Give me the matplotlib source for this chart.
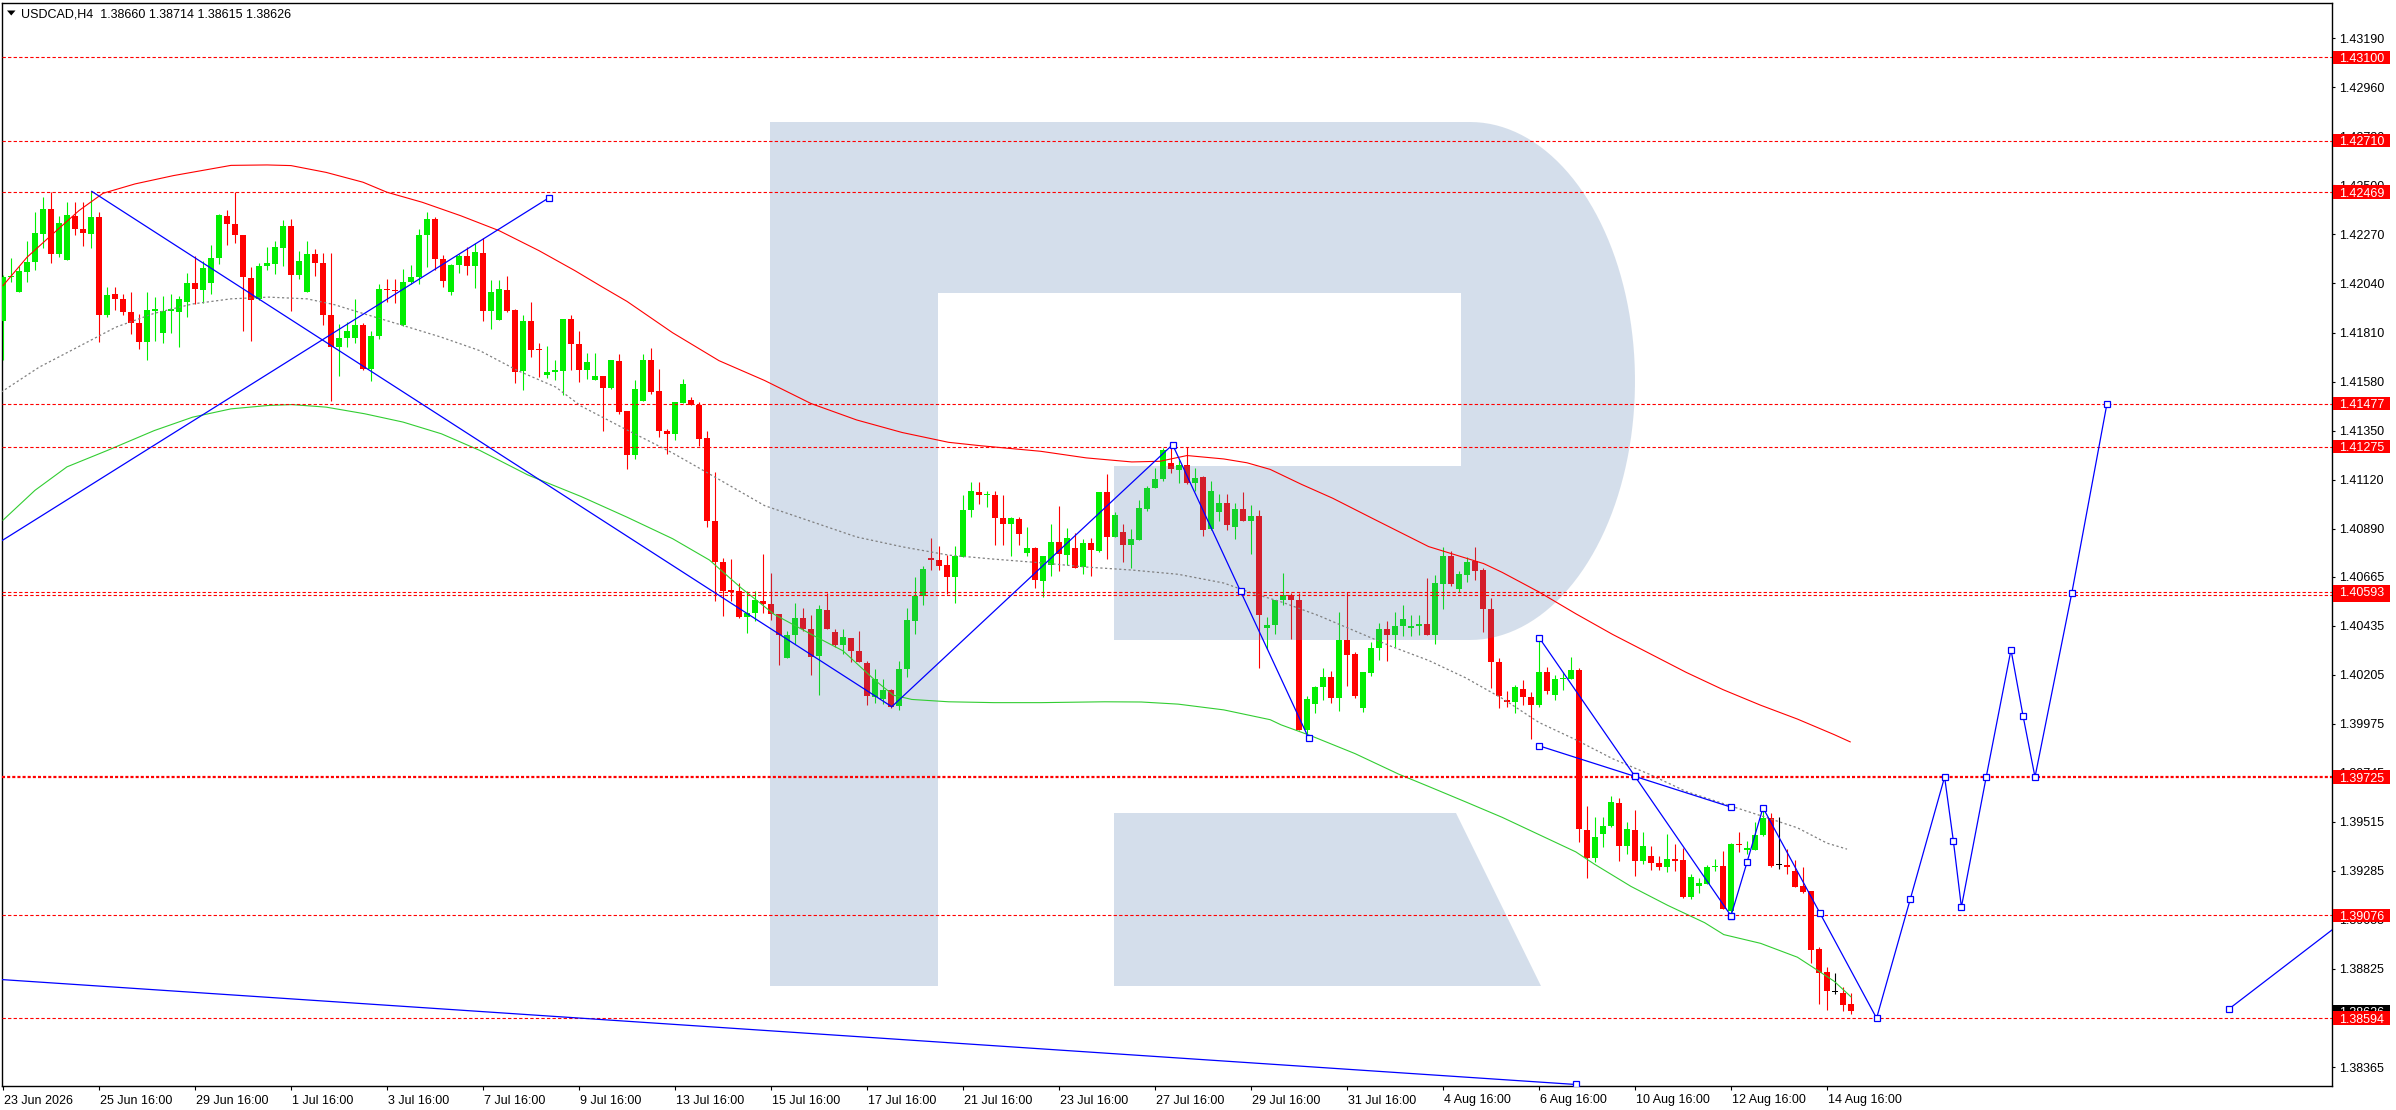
import matplotlib
matplotlib.use('Agg')
import matplotlib.pyplot as plt
import matplotlib.transforms as mtransforms
from matplotlib.patches import Polygon, Rectangle
import numpy as np

plt.rcParams['font.family'] = ['Liberation Sans', 'DejaVu Sans']
plt.rcParams['lines.scale_dashes'] = False

# ---------------- data ----------------
title = 'USDCAD,H4  1.38660 1.38714 1.38615 1.38626'

opens = [1.41863, 1.42069, 1.41999, 1.42093, 1.42140, 1.42274, 1.42391, 1.42177, 1.42150, 1.42358,
         1.42296, 1.42271, 1.42354, 1.41891, 1.41991, 1.41969, 1.41907, 1.41857, 1.41765, 1.41910,
         1.41807, 1.41910, 1.41908, 1.41955, 1.42040, 1.42008, 1.42041, 1.42158, 1.42358, 1.42321,
         1.42269, 1.42068, 1.41965, 1.42121, 1.42130, 1.42208, 1.42311, 1.42079, 1.41999, 1.42180,
         1.42138, 1.41894, 1.41741, 1.41785, 1.41786, 1.41847, 1.41641, 1.41793, 1.42016, 1.42011,
         1.41844, 1.42046, 1.42069, 1.42266, 1.42344, 1.42155, 1.41999, 1.42129, 1.42171, 1.42124,
         1.42185, 1.41910, 1.41871, 1.42010, 1.41916, 1.41629, 1.41865, 1.41730, 1.41611, 1.41626,
         1.41629, 1.41875, 1.41757, 1.41635, 1.41588, 1.41604, 1.41551, 1.41678, 1.41441, 1.41234,
         1.41489, 1.41681, 1.41534, 1.41349, 1.41336, 1.41480, 1.41492, 1.41469, 1.41316, 1.40927,
         1.40735, 1.40602, 1.40599, 1.40475, 1.40494, 1.40550, 1.40537, 1.40491, 1.40284, 1.40392,
         1.40472, 1.40421, 1.40295, 1.40508, 1.40403, 1.40344, 1.40375, 1.40315, 1.40259, 1.40101,
         1.40092, 1.40135, 1.40058, 1.40230, 1.40457, 1.40573, 1.40751, 1.40743, 1.40720, 1.40664,
         1.40757, 1.40978, 1.41061, 1.41046, 1.41047, 1.40939, 1.40911, 1.40934, 1.40775, 1.40797,
         1.40645, 1.40720, 1.40829, 1.40766, 1.40798, 1.40710, 1.40825, 1.40786, 1.41060, 1.40849,
         1.40874, 1.40812, 1.40836, 1.40982, 1.41080, 1.41121, 1.41196, 1.41165, 1.41188, 1.41106,
         1.41134, 1.40887, 1.40970, 1.41010, 1.40900, 1.40982, 1.40924, 1.40948, 1.40423, 1.40438,
         1.40556, 1.40580, 1.40557, 1.39945, 1.40067, 1.40146, 1.40196, 1.40094, 1.40366, 1.40300,
         1.40050, 1.40212, 1.40329, 1.40418, 1.40392, 1.40434, 1.40426, 1.40434, 1.40445, 1.40392,
         1.40632, 1.40764, 1.40607, 1.40674, 1.40737, 1.40696, 1.40515, 1.40266, 1.40088, 1.40078,
         1.40140, 1.40101, 1.40065, 1.40220, 1.40109, 1.40185, 1.40187, 1.40229, 1.39476, 1.39343,
         1.39460, 1.39495, 1.39604, 1.39402, 1.39476, 1.39330, 1.39356, 1.39323, 1.39301, 1.39342,
         1.39337, 1.39164, 1.39212, 1.39225, 1.39301, 1.39308, 1.39099, 1.39411, 1.39385, 1.39385,
         1.39453, 1.39534, 1.39312, 1.39312, 1.39285, 1.39212, 1.39191, 1.38919, 1.38811, 1.38717,
         1.38714, 1.38660]

highs = [1.42082, 1.42160, 1.42124, 1.42238, 1.42377, 1.42444, 1.42469, 1.42355, 1.42424, 1.42422,
         1.42422, 1.42472, 1.42377, 1.42022, 1.42022, 1.41991, 1.42002, 1.41897, 1.41999, 1.41976,
         1.41979, 1.41991, 1.41982, 1.42091, 1.42169, 1.42147, 1.42221, 1.42366, 1.42385, 1.42469,
         1.42269, 1.42119, 1.42136, 1.42213, 1.42241, 1.42338, 1.42343, 1.42191, 1.42238, 1.42201,
         1.42182, 1.42182, 1.41850, 1.41858, 1.41969, 1.41855, 1.41816, 1.42038, 1.42060, 1.42060,
         1.42108, 1.42129, 1.42294, 1.42377, 1.42354, 1.42175, 1.42132, 1.42179, 1.42210, 1.42229,
         1.42254, 1.42057, 1.42057, 1.42075, 1.41921, 1.41893, 1.41955, 1.41760, 1.41749, 1.41679,
         1.41875, 1.41890, 1.41815, 1.41716, 1.41716, 1.41604, 1.41681, 1.41709, 1.41441, 1.41588,
         1.41709, 1.41737, 1.41639, 1.41358, 1.41483, 1.41594, 1.41508, 1.41482, 1.41350, 1.41157,
         1.40751, 1.40746, 1.40633, 1.40596, 1.40596, 1.40772, 1.40680, 1.40491, 1.40411, 1.40542,
         1.40519, 1.40483, 1.40534, 1.40587, 1.40418, 1.40418, 1.40375, 1.40411, 1.40271, 1.40234,
         1.40186, 1.40138, 1.40267, 1.40519, 1.40661, 1.40715, 1.40846, 1.40809, 1.40766, 1.40809,
         1.41047, 1.41109, 1.41109, 1.41069, 1.41066, 1.41047, 1.40945, 1.40944, 1.40896, 1.40805,
         1.40761, 1.40913, 1.40998, 1.40894, 1.40870, 1.40840, 1.40846, 1.41063, 1.41145, 1.40967,
         1.40913, 1.40890, 1.41023, 1.41091, 1.41176, 1.41268, 1.41288, 1.41214, 1.41271, 1.41176,
         1.41137, 1.41112, 1.41053, 1.41053, 1.41010, 1.41063, 1.41002, 1.40979, 1.40478, 1.40557,
         1.40680, 1.40588, 1.40588, 1.40107, 1.40154, 1.40235, 1.40224, 1.40499, 1.40593, 1.40311,
         1.40216, 1.40358, 1.40447, 1.40457, 1.40499, 1.40534, 1.40483, 1.40483, 1.40658, 1.40672,
         1.40802, 1.40787, 1.40690, 1.40758, 1.40803, 1.40704, 1.40564, 1.40285, 1.40127, 1.40159,
         1.40180, 1.40123, 1.40377, 1.40240, 1.40204, 1.40219, 1.40288, 1.40235, 1.39588, 1.39536,
         1.39536, 1.39638, 1.39628, 1.39512, 1.39571, 1.39468, 1.39403, 1.39356, 1.39456, 1.39410,
         1.39392, 1.39269, 1.39253, 1.39314, 1.39342, 1.39379, 1.39415, 1.39466, 1.39424, 1.39515,
         1.39568, 1.39557, 1.39539, 1.39389, 1.39338, 1.39301, 1.39191, 1.38926, 1.38832, 1.38804,
         1.38738, 1.38714]

lows = [1.41682, 1.42046, 1.41999, 1.42046, 1.42105, 1.42205, 1.42136, 1.42163, 1.42150, 1.42266,
        1.42215, 1.42205, 1.41765, 1.41882, 1.41916, 1.41894, 1.41802, 1.41732, 1.41682, 1.41769,
        1.41760, 1.41807, 1.41741, 1.41882, 1.41944, 1.41949, 1.41991, 1.42132, 1.42222, 1.42229,
        1.41819, 1.41769, 1.41961, 1.42105, 1.42085, 1.42121, 1.41910, 1.42060, 1.41999, 1.42074,
        1.41847, 1.41491, 1.41604, 1.41741, 1.41763, 1.41632, 1.41582, 1.41779, 1.41952, 1.41950,
        1.41841, 1.42038, 1.42038, 1.42116, 1.42105, 1.42025, 1.41986, 1.42088, 1.42082, 1.42018,
        1.41866, 1.41827, 1.41871, 1.41907, 1.41574, 1.41541, 1.41694, 1.41600, 1.41597, 1.41588,
        1.41515, 1.41632, 1.41579, 1.41591, 1.41585, 1.41349, 1.41546, 1.41426, 1.41168, 1.41219,
        1.41489, 1.41520, 1.41322, 1.41242, 1.41304, 1.41480, 1.41469, 1.41279, 1.40899, 1.40550,
        1.40480, 1.40550, 1.40472, 1.40401, 1.40457, 1.40496, 1.40460, 1.40251, 1.40284, 1.40349,
        1.40411, 1.40205, 1.40109, 1.40418, 1.40333, 1.40302, 1.40265, 1.40264, 1.40063, 1.40071,
        1.40067, 1.40049, 1.40040, 1.40194, 1.40395, 1.40534, 1.40696, 1.40696, 1.40584, 1.40540,
        1.40757, 1.40945, 1.41007, 1.40990, 1.40815, 1.40812, 1.40763, 1.40812, 1.40763, 1.40611,
        1.40568, 1.40666, 1.40692, 1.40720, 1.40704, 1.40678, 1.40666, 1.40781, 1.40747, 1.40849,
        1.40735, 1.40707, 1.40836, 1.40975, 1.41080, 1.41114, 1.41152, 1.41106, 1.41098, 1.41067,
        1.40856, 1.40882, 1.40928, 1.40882, 1.40840, 1.40924, 1.40769, 1.40237, 1.40327, 1.40395,
        1.40531, 1.40372, 1.39945, 1.39916, 1.40025, 1.40086, 1.40073, 1.40036, 1.40154, 1.40094,
        1.40030, 1.40198, 1.40272, 1.40269, 1.40334, 1.40386, 1.40386, 1.40392, 1.40390, 1.40350,
        1.40515, 1.40619, 1.40591, 1.40640, 1.40651, 1.40405, 1.40141, 1.40049, 1.40055, 1.40026,
        1.40062, 1.39905, 1.40054, 1.40115, 1.40085, 1.40131, 1.40187, 1.39422, 1.39251, 1.39327,
        1.39398, 1.39492, 1.39330, 1.39366, 1.39259, 1.39317, 1.39288, 1.39288, 1.39280, 1.39285,
        1.39159, 1.39152, 1.39180, 1.39223, 1.39285, 1.39107, 1.39083, 1.39374, 1.39363, 1.39382,
        1.39447, 1.39304, 1.39293, 1.39272, 1.39207, 1.39180, 1.38854, 1.38662, 1.38633, 1.38709,
        1.38629, 1.38615]

closes = [1.42072, 1.42077, 1.42100, 1.42143, 1.42279, 1.42391, 1.42179, 1.42325, 1.42363, 1.42296,
          1.42276, 1.42354, 1.41891, 1.41988, 1.41966, 1.41904, 1.41854, 1.41765, 1.41916, 1.41922,
          1.41913, 1.41919, 1.41965, 1.42040, 1.42013, 1.42111, 1.42161, 1.42360, 1.42318, 1.42266,
          1.42069, 1.41961, 1.42124, 1.42138, 1.42213, 1.42311, 1.42079, 1.42147, 1.42180, 1.42135,
          1.41891, 1.41741, 1.41786, 1.41819, 1.41847, 1.41641, 1.41794, 1.42016, 1.42010, 1.42005,
          1.42049, 1.42072, 1.42269, 1.42344, 1.42154, 1.42050, 1.42129, 1.42171, 1.42122, 1.42190,
          1.41910, 1.42001, 1.42013, 1.41913, 1.41626, 1.41865, 1.41727, 1.41727, 1.41626, 1.41632,
          1.41875, 1.41757, 1.41635, 1.41674, 1.41607, 1.41550, 1.41681, 1.41437, 1.41234, 1.41546,
          1.41681, 1.41531, 1.41349, 1.41336, 1.41483, 1.41570, 1.41472, 1.41312, 1.40924, 1.40732,
          1.40599, 1.40593, 1.40475, 1.40494, 1.40554, 1.40539, 1.40491, 1.40392, 1.40392, 1.40469,
          1.40421, 1.40290, 1.40511, 1.40418, 1.40346, 1.40380, 1.40315, 1.40264, 1.40104, 1.40186,
          1.40135, 1.40055, 1.40230, 1.40460, 1.40573, 1.40699, 1.40743, 1.40715, 1.40664, 1.40761,
          1.40978, 1.41067, 1.41050, 1.41052, 1.40939, 1.40911, 1.40939, 1.40865, 1.40797, 1.40650,
          1.40761, 1.40829, 1.40769, 1.40846, 1.40707, 1.40823, 1.40789, 1.41060, 1.40851, 1.40954,
          1.40812, 1.40840, 1.40985, 1.41083, 1.41121, 1.41260, 1.41171, 1.41188, 1.41106, 1.41129,
          1.40882, 1.41069, 1.41010, 1.40905, 1.40982, 1.40924, 1.40948, 1.40485, 1.40438, 1.40557,
          1.40577, 1.40557, 1.39945, 1.40091, 1.40149, 1.40196, 1.40094, 1.40366, 1.40297, 1.40107,
          1.40216, 1.40331, 1.40418, 1.40392, 1.40434, 1.40465, 1.40434, 1.40445, 1.40392, 1.40633,
          1.40764, 1.40632, 1.40677, 1.40732, 1.40692, 1.40515, 1.40264, 1.40107, 1.40076, 1.40146,
          1.40099, 1.40065, 1.40219, 1.40128, 1.40187, 1.40191, 1.40229, 1.39479, 1.39346, 1.39444,
          1.39495, 1.39609, 1.39400, 1.39482, 1.39333, 1.39402, 1.39320, 1.39301, 1.39342, 1.39333,
          1.39164, 1.39257, 1.39228, 1.39303, 1.39304, 1.39107, 1.39411, 1.39405, 1.39389, 1.39453,
          1.39534, 1.39309, 1.39312, 1.39301, 1.39210, 1.39188, 1.38916, 1.38806, 1.38722, 1.38717,
          1.38657, 1.38626]

# moving-average style curves (bar index, price)
red_ma_x = [0, 3, 6, 9.5, 12.5, 16.5, 21.3, 28.5, 33, 36, 40.4, 45, 48, 52.4, 57.2, 62, 67, 71.5, 74.8, 78.0,
            83.7, 89.5, 95.2, 101, 106.7, 112.4, 118.2, 122.2, 129.7, 135.4, 141.1, 144.6, 148.0, 152.6, 155.5,
            158.4, 162.3, 166.2, 171.3, 178.2, 185.1, 187.4, 192, 196.6, 201.2, 205.8, 210.4, 215, 219.7, 224.3,
            228.9, 230.9]
red_ma_y = [1.42030, 1.42163, 1.42265, 1.42382, 1.42463, 1.42507, 1.42546, 1.42594, 1.42596, 1.42593,
            1.42561, 1.42515, 1.42468, 1.42421, 1.42358, 1.42288, 1.42194, 1.42100, 1.42026, 1.41956,
            1.41809, 1.41678, 1.41585, 1.41477, 1.41400, 1.41341, 1.41295, 1.41279, 1.41253, 1.41222,
            1.41203, 1.41206, 1.41233, 1.41217, 1.41199, 1.41168, 1.41098, 1.41033, 1.40936, 1.40806,
            1.40726, 1.40685, 1.40593, 1.40491, 1.40394, 1.40305, 1.40216, 1.40135, 1.40062, 1.39997,
            1.39924, 1.39890]

green_ma_x = [0, 4, 8, 13.05, 18.9, 23.7, 28.5, 33.2, 36.1, 40.4, 45.2, 50, 54.8, 59.6, 65.6, 72.25, 78.0,
              83.7, 88.3, 92.3, 96.4, 101, 105, 109, 111.3, 113.6, 118.2, 123.9, 129.7, 137.7, 142.3, 146.9,
              152.6, 158.4, 159.75, 163.4, 169, 174.5, 178.2, 182.8, 187.4, 192, 196.6, 198.9, 203.5, 208.1,
              212.7, 215.1, 219.7, 224.3, 226.6, 228.9, 231]
green_ma_y = [1.40930, 1.41070, 1.41180, 1.41257, 1.41350, 1.41413, 1.41452, 1.41468, 1.41472, 1.41460,
              1.41429, 1.41390, 1.41335, 1.41257, 1.41142, 1.41041, 1.40944, 1.40843, 1.40743, 1.40611,
              1.40488, 1.40395, 1.40317, 1.40179, 1.40109, 1.40089, 1.40078, 1.40074, 1.40074, 1.40078,
              1.40077, 1.40067, 1.40040, 1.39994, 1.39970, 1.39920, 1.39835, 1.39738, 1.39681, 1.39609,
              1.39536, 1.39455, 1.39374, 1.39317, 1.39212, 1.39123, 1.39042, 1.38986, 1.38945, 1.38880,
              1.38824, 1.38767, 1.38694]

gray_ma_x = [-0.25, 4.5, 9.3, 14.1, 18.9, 23.7, 28.5, 33.2, 38.0, 41.4, 45.2, 50, 54.8, 59.6, 64.3, 69.1,
             72.25, 78.0, 83.7, 89.5, 95.2, 101, 106.7, 112.4, 118.2, 123.9, 129.7, 135.4, 141.1, 146.9,
             152.6, 156.1, 159.75, 164.4, 169, 173.6, 178.2, 182.8, 187.4, 192, 196.6, 201.2, 205.8, 210.4,
             215, 219.7, 224.3, 228, 230.5]
gray_ma_y = [1.41530, 1.41647, 1.41741, 1.41835, 1.41900, 1.41944, 1.41968, 1.41976, 1.41968, 1.41941,
             1.41897, 1.41843, 1.41788, 1.41725, 1.41632, 1.41554, 1.41465, 1.41353, 1.41245, 1.41121,
             1.40998, 1.40924, 1.40851, 1.40805, 1.40766, 1.40747, 1.40730, 1.40710, 1.40696, 1.40676,
             1.40635, 1.40588, 1.40547, 1.40483, 1.40410, 1.40337, 1.40272, 1.40191, 1.40094, 1.39981,
             1.39900, 1.39811, 1.39738, 1.39657, 1.39601, 1.39544, 1.39487, 1.39415, 1.39387]

# blue trend lines (bar index, price)
trend1_x = [11.1, 111.1];            trend1_y = [1.42472, 1.40055]
trend2_x = [-0.125, 68.2];           trend2_y = [1.40834, 1.42441]
trend3_x = [111.1, 146.2];           trend3_y = [1.40055, 1.41284]
trend4_x = [146.2, 154.7, 163.2];    trend4_y = [1.41284, 1.40596, 1.39908]
trend5_x = [192.05, 204.0, 216.0];   trend5_y = [1.40377, 1.39728, 1.39074]
trend6_x = [192.05, 204.0, 216.0];   trend6_y = [1.39871, 1.39728, 1.39584]
forecast_x = [216.0, 218.0, 220.0, 227.1, 234.2, 238.4, 242.7, 243.8, 244.8, 247.9, 251.0, 252.5, 254.0,
              258.6, 263.0]
forecast_y = [1.39074, 1.39325, 1.39581, 1.39088, 1.38594, 1.39151, 1.39725, 1.39424, 1.39115, 1.39725,
              1.40322, 1.40013, 1.39725, 1.40588, 1.41477]
trend8_x = [-0.125, 196.6];          trend8_y = [1.38775, 1.38283]
trend9_x = [278.2, 291.2];           trend9_y = [1.38636, 1.39010]

# horizontal levels
levels = [1.43100, 1.42710, 1.42469, 1.41477, 1.41275, 1.40580, 1.40593, 1.39725, 1.39076, 1.38594]
thick_level = 1.39725
current_price = 1.38626

ytick_vals = [1.43190, 1.42960, 1.42730, 1.42500, 1.42270, 1.42040, 1.41810, 1.41580, 1.41350, 1.41120,
              1.40890, 1.40665, 1.40435, 1.40205, 1.39975, 1.39745, 1.39515, 1.39285, 1.39055, 1.38825,
              1.38595, 1.38365]

xtick_bars = [0, 12, 24, 36, 48, 60, 72, 84, 96, 108, 120, 132, 144, 156, 168, 180, 192, 204, 216, 228]
xtick_labels = ['23 Jun 2026', '25 Jun 16:00', '29 Jun 16:00', '1 Jul 16:00', '3 Jul 16:00', '7 Jul 16:00',
                '9 Jul 16:00', '13 Jul 16:00', '15 Jul 16:00', '17 Jul 16:00', '21 Jul 16:00',
                '23 Jul 16:00', '27 Jul 16:00', '29 Jul 16:00', '31 Jul 16:00', '4 Aug 16:00',
                '6 Aug 16:00', '10 Aug 16:00', '12 Aug 16:00', '14 Aug 16:00']

# ---------------- figure ----------------
W, H, DPI = 2396, 1110, 100
L_PX, R_PX, T_PX, B_PX = 2, 2332, 3, 1086
fig = plt.figure(figsize=(W / DPI, H / DPI), dpi=DPI)
fig.patch.set_facecolor('white')
ax = fig.add_axes([L_PX / W, (H - B_PX) / H, (R_PX - L_PX) / W, (B_PX - T_PX) / H])
ax.set_facecolor('white')
ax.set_xlim(-0.125, 291.125)
ax.set_ylim(1.382759, 1.433556)
FS = 9

# candles
o = np.array(opens); h = np.array(highs); l = np.array(lows); c = np.array(closes)
xb = np.arange(len(o))
GREEN, RED = '#00ee00', '#ff0000'
cols = np.where(c > o, GREEN, np.where(c < o, RED, '#000000'))
ax.vlines(xb, l, h, colors=cols, linewidth=0.8, zorder=3)
ax.bar(xb, np.maximum(np.abs(c - o), 0.00005), bottom=np.minimum(o, c), width=0.68,
       color=cols, linewidth=0, zorder=3)

# watermark "R" (semi-transparent overlay)
def frac(px, py):
    return ((px - L_PX) / (R_PX - L_PX), (B_PX - py) / (B_PX - T_PX))

tt = np.linspace(np.pi / 2, -np.pi / 2, 80)
arc = [(1470 + 165 * np.cos(a), 381 - 259 * np.sin(a)) for a in tt]
r_body = [(770, 122)] + arc + [(1114, 640), (1114, 466), (1461, 466), (1461, 293),
                               (938, 293), (938, 986), (770, 986)]
r_leg = [(1114, 813), (1456, 813), (1541, 986), (1114, 986)]
wm_col = (82 / 255, 123 / 255, 173 / 255)
for shape in (r_body, r_leg):
    ax.add_patch(Polygon([frac(*p) for p in shape], closed=True, transform=ax.transAxes,
                         facecolor=wm_col, alpha=0.243, edgecolor='none', zorder=3.5))

# moving averages
ax.plot(red_ma_x, red_ma_y, color='#ff0000', lw=0.8, zorder=4)
ax.plot(green_ma_x, green_ma_y, color='#32cd32', lw=0.8, zorder=4)
ax.plot(gray_ma_x, gray_ma_y, color='#808080', lw=0.9, dashes=(1.6, 1.8), zorder=4)

# horizontal levels
for v in levels:
    if v == thick_level:
        ax.axhline(v, color='#ff0000', lw=1.6, dashes=(2.2, 1.5), zorder=4)
    else:
        ax.axhline(v, color='#ff0000', lw=0.8, dashes=(2.4, 1.6), zorder=4)

# blue trend lines
BLUE = '#0000ff'
mk = dict(marker='s', ms=4.6, mfc='white', mec=BLUE, mew=0.9)
ax.plot(trend1_x, trend1_y, color=BLUE, lw=0.9, zorder=5)
ax.plot(trend2_x, trend2_y, color=BLUE, lw=0.9, zorder=5)
ax.plot([trend2_x[-1]], [trend2_y[-1]], ls='none', zorder=6, **mk)
ax.plot(trend3_x, trend3_y, color=BLUE, lw=0.9, zorder=5)
for tx, ty in ((trend4_x, trend4_y), (trend5_x, trend5_y), (trend6_x, trend6_y),
               (forecast_x, forecast_y)):
    ax.plot(tx, ty, color=BLUE, lw=0.9, zorder=5)
    ax.plot(tx, ty, ls='none', zorder=6, **mk)
ax.plot(trend8_x, trend8_y, color=BLUE, lw=0.9, zorder=5)
ax.plot([trend8_x[-1]], [trend8_y[-1]], ls='none', zorder=6, **mk)
ax.plot(trend9_x, trend9_y, color=BLUE, lw=0.9, zorder=5)
ax.plot([trend9_x[0]], [trend9_y[0]], ls='none', zorder=6, **mk)

# axes frame and ticks
for s in ax.spines.values():
    s.set_color('black'); s.set_linewidth(1.0)
ax.yaxis.tick_right()
ax.set_yticks(ytick_vals)
ax.set_yticklabels([])
ax.tick_params(axis='y', right=True, left=False, length=2.5, width=0.8, direction='out')
ax.set_xticks(xtick_bars)
ax.set_xticklabels([])
ax.tick_params(axis='x', bottom=True, length=3.0, width=0.8, direction='out')

ytrans = mtransforms.blended_transform_factory(ax.transAxes, ax.transData)
ytrans_txt = mtransforms.offset_copy(ytrans, fig=fig, x=0, y=-4.5, units='dots')
x_txt = (2339 - L_PX) / (R_PX - L_PX)
for v in ytick_vals:
    ax.text(x_txt, v, f'{v:.5f}', transform=ytrans_txt, fontsize=FS, color='black',
            ha='left', va='baseline', clip_on=False, zorder=7)

box_x0 = (2333 - L_PX) / (R_PX - L_PX)
box_w = (2390 - 2333) / (R_PX - L_PX)
half_h = 6.8 / 21320.0

def price_box(v, face):
    ax.add_patch(Rectangle((box_x0, v - half_h), box_w, 2 * half_h, transform=ytrans,
                           facecolor=face, edgecolor='none', clip_on=False, zorder=8))
    ax.text(x_txt, v, f'{v:.5f}', transform=ytrans_txt, fontsize=FS, color='white',
            ha='left', va='baseline', clip_on=False, zorder=8)

price_box(current_price, 'black')
for v in levels:
    price_box(v, '#ff0000')

xtrans = mtransforms.blended_transform_factory(ax.transData, ax.transAxes)
xtrans_txt = mtransforms.offset_copy(xtrans, fig=fig, x=1, y=0, units='dots')
y_lab = (B_PX - 1103.5) / (B_PX - T_PX)
for b, lab in zip(xtick_bars, xtick_labels):
    ax.text(b, y_lab, lab, transform=xtrans_txt, fontsize=FS, color='black',
            ha='left', va='baseline', clip_on=False)

# title with triangle
tri = [(7 / W, 1 - 10.5 / H), (15.5 / W, 1 - 10.5 / H), (11.25 / W, 1 - 15.5 / H)]
fig.patches.append(Polygon(tri, closed=True, transform=fig.transFigure, facecolor='black',
                           edgecolor='none', zorder=10))
fig.text(21 / W, 1 - 17.5 / H, title, fontsize=FS, color='black', ha='left', va='baseline', zorder=10)

fig.savefig('out.png', dpi=DPI, facecolor='white')
